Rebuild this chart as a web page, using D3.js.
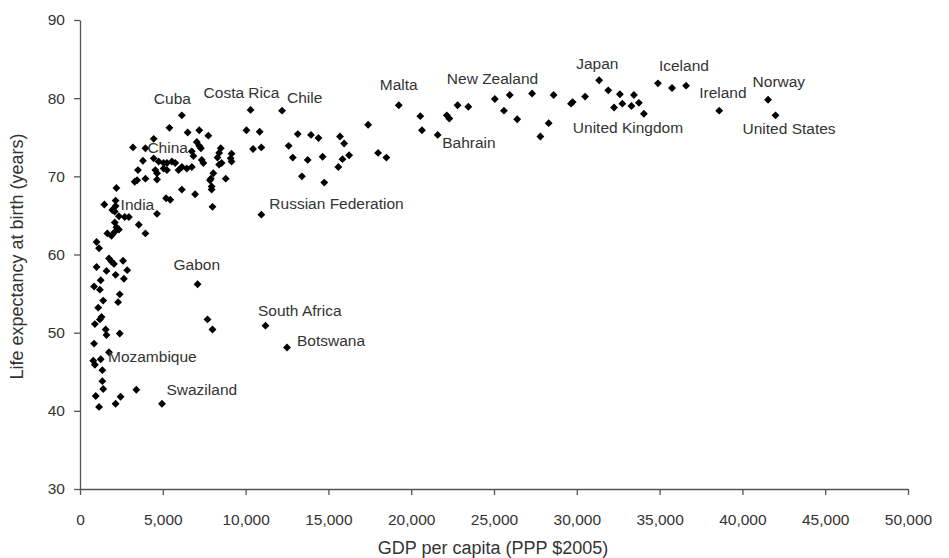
<!DOCTYPE html>
<html>
<head>
<meta charset="utf-8">
<script src="https://cdn.jsdelivr.net/npm/d3@7/dist/d3.min.js"></script>
<style>
  html, body { margin: 0; padding: 0; background: #fff; }
  svg { display: block; font-family: "Liberation Sans", Arial, Helvetica, sans-serif; }
</style>
</head>
<body>
<svg id="chart" width="949" height="558"></svg>
<script>
// GDP per capita (PPP $2005) for each country
const gdpPerCapita = [
  2200, 1470, 2150, 2150, 1950, 2100, 2350, 2700, 2950, 4650,
  5200, 5450, 6150, 6950, 7950, 7950, 8000, 8800, 2100, 2200,
  2350, 2100, 3550, 3950, 1650, 1900, 1000, 1150, 1750, 1900,
  2050, 2600, 2850, 1000, 1600, 2150, 2650, 1250, 850, 1200,
  2400, 2300, 1400, 1100, 1300, 1200, 900, 1550, 1600, 2400,
  850, 1750, 800, 900, 1250, 1350, 1350, 1400, 3400, 950,
  2450, 2150, 1150, 4950, 7100, 7700, 8000, 11200, 12500, 10950,
  6150, 5400, 6500, 7200, 7750, 4450, 3200, 3950, 7050, 7200,
  7300, 6750, 6850, 8500, 8400, 8300, 9150, 9100, 9150, 3800,
  4450, 4750, 5050, 5250, 5550, 5750, 6150, 6450, 6750, 7350,
  7450, 8550, 8400, 3500, 4550, 4650, 5050, 5250, 5950, 8050,
  7900, 7850, 3950, 3450, 3300, 4650, 10300, 12200, 10050, 10850,
  10450, 10950, 13150, 13950, 14400, 12600, 12850, 13750, 14650, 13400,
  14750, 15700, 15950, 16250, 15850, 15600, 17400, 18000, 18500, 19250,
  20550, 20650, 21600, 22150, 22300, 22800, 23450, 25050, 25950, 25600,
  26400, 27300, 28300, 27800, 28600, 29650, 29750, 30500, 31350, 31900,
  32250, 32600, 32750, 33300, 33450, 33750, 34050, 34900, 35750, 36600,
  38600, 41550, 42000
];

// Life expectancy at birth (years) for each country, same order
const lifeExpectancy = [
  68.5, 66.4, 66.9, 66.2, 65.7, 65.5, 64.9, 64.8, 64.8, 65.2,
  67.2, 67.0, 68.3, 67.7, 68.7, 68.3, 66.1, 69.7, 64.1, 63.5,
  63.2, 62.9, 63.8, 62.7, 62.7, 62.4, 61.6, 60.8, 59.5, 59.1,
  58.8, 59.2, 58.0, 58.4, 57.9, 57.4, 56.9, 56.7, 55.9, 55.5,
  54.9, 53.9, 54.1, 53.2, 52.0, 51.7, 51.1, 50.4, 49.7, 49.9,
  48.6, 47.5, 46.4, 45.9, 46.6, 45.2, 43.8, 42.8, 42.7, 41.9,
  41.8, 40.9, 40.5, 40.9, 56.2, 51.7, 50.4, 50.9, 48.1, 65.1,
  77.8, 76.2, 75.6, 75.9, 75.2, 74.8, 73.7, 73.6, 74.4, 73.9,
  73.6, 73.2, 72.6, 73.6, 73.0, 72.4, 72.9, 72.3, 71.9, 72.0,
  72.3, 71.9, 71.7, 71.7, 71.9, 71.7, 71.2, 71.0, 71.2, 72.1,
  71.7, 71.7, 71.5, 70.8, 70.8, 70.4, 71.0, 70.8, 70.8, 70.4,
  69.7, 69.5, 69.7, 69.5, 69.3, 69.6, 78.5, 78.4, 75.9, 75.7,
  73.5, 73.7, 75.4, 75.3, 74.9, 73.9, 72.4, 72.1, 72.5, 70.0,
  69.2, 75.1, 74.2, 72.7, 72.2, 71.2, 76.6, 73.0, 72.4, 79.1,
  77.7, 75.9, 75.3, 77.8, 77.4, 79.1, 78.9, 79.9, 80.4, 78.4,
  77.3, 80.6, 76.8, 75.1, 80.4, 79.3, 79.5, 80.2, 82.3, 81.0,
  78.8, 80.5, 79.3, 79.0, 80.4, 79.4, 78.0, 81.9, 81.3, 81.6,
  78.4, 79.8, 77.8
];

// Named countries and the values of the point each name belongs to
const labelNames = [
  "Cuba", "Costa Rica", "Chile", "China", "India", "Russian Federation",
  "Gabon", "South Africa", "Botswana", "Mozambique", "Swaziland",
  "Malta", "New Zealand", "Bahrain", "Japan", "United Kingdom",
  "Iceland", "Ireland", "Norway", "United States"
];
const labelGdp = [
  6150, 10300, 12200, 3950, 2150, 10950,
  7100, 11200, 12500, 1750, 4950,
  19250, 25050, 21600, 31350, 34050,
  34900, 38600, 41550, 42000
];
const labelLife = [
  77.8, 78.5, 78.4, 73.6, 66.2, 65.1,
  56.2, 50.9, 48.1, 47.5, 40.9,
  79.1, 79.9, 75.3, 82.3, 78.0,
  81.9, 78.4, 79.8, 77.8
];

// Axis ticks
const xTicks = [0, 5000, 10000, 15000, 20000, 25000, 30000, 35000, 40000, 45000, 50000];
const yTicks = [30, 40, 50, 60, 70, 80, 90];

// Where each name sits relative to its point (pixels: text start, baseline)
const labelOffset = {
  "Cuba": [-28, -11], "Costa Rica": [-47, -12], "Chile": [5, -7.5],
  "China": [2, 5], "India": [5, 4], "Russian Federation": [8, -6],
  "Gabon": [-24, -14.5], "South Africa": [-7.5, -10], "Botswana": [10, -1.5],
  "Mozambique": [-1, 10], "Swaziland": [4.5, -8.5], "Malta": [-19, -15],
  "New Zealand": [-48, -14.5], "Bahrain": [4.5, 13], "Japan": [-23, -11],
  "United Kingdom": [-71, 19], "Iceland": [1, -12.5], "Ireland": [-20, -12.5],
  "Norway": [-15.5, -12.5], "United States": [-33, 19]
};

const svg = d3.select("#chart");
const x = d3.scaleLinear().domain([0, 50000]).range([80, 908]);
const y = d3.scaleLinear().domain([30, 90]).range([489, 20]);

const axisColor = "#555";
const textColor = "#333";

// Axes
const fmt = d3.format(",");
const xAxis = svg.append("g")
  .attr("transform", `translate(0,${y(30)})`)
  .call(d3.axisBottom(x).tickValues(xTicks).tickFormat(fmt).tickSize(6).tickSizeOuter(0).tickPadding(19));
const yAxis = svg.append("g")
  .attr("transform", `translate(${x(0)},0)`)
  .call(d3.axisLeft(y).tickValues(yTicks).tickSize(6).tickSizeOuter(0).tickPadding(9));

[xAxis, yAxis].forEach(g => {
  g.select(".domain").attr("stroke", axisColor).attr("stroke-width", 1.3);
  g.selectAll(".tick line").attr("stroke", axisColor).attr("stroke-width", 1.3);
  g.selectAll(".tick text")
    .attr("fill", textColor)
    .style("font-size", "15.5px")
    .style("font-family", "'Liberation Sans', Arial, sans-serif");
});

// Axis titles
svg.append("text")
  .attr("x", (x(0) + x(50000)) / 2 - 1)
  .attr("y", 554)
  .attr("text-anchor", "middle")
  .attr("fill", textColor)
  .style("font-size", "18px")
  .text("GDP per capita (PPP $2005)");

svg.append("text")
  .attr("transform", `translate(23,${(y(30) + y(90)) / 2 + 2}) rotate(-90)`)
  .attr("text-anchor", "middle")
  .attr("fill", textColor)
  .style("font-size", "18px")
  .text("Life expectancy at birth (years)");

// Points: small black diamonds
const diamond = d3.symbol().type(d3.symbolSquare).size(31);
svg.append("g")
  .selectAll("path")
  .data(d3.range(gdpPerCapita.length))
  .join("path")
  .attr("d", diamond)
  .attr("transform", i => `translate(${x(gdpPerCapita[i])},${y(lifeExpectancy[i])}) rotate(45)`)
  .attr("fill", "#000");

// Country names
svg.append("g")
  .selectAll("text")
  .data(d3.range(labelNames.length))
  .join("text")
  .attr("x", i => x(labelGdp[i]) + labelOffset[labelNames[i]][0])
  .attr("y", i => y(labelLife[i]) + labelOffset[labelNames[i]][1])
  .attr("fill", textColor)
  .style("font-size", "15.5px")
  .text(i => labelNames[i]);
</script>
</body>
</html>
